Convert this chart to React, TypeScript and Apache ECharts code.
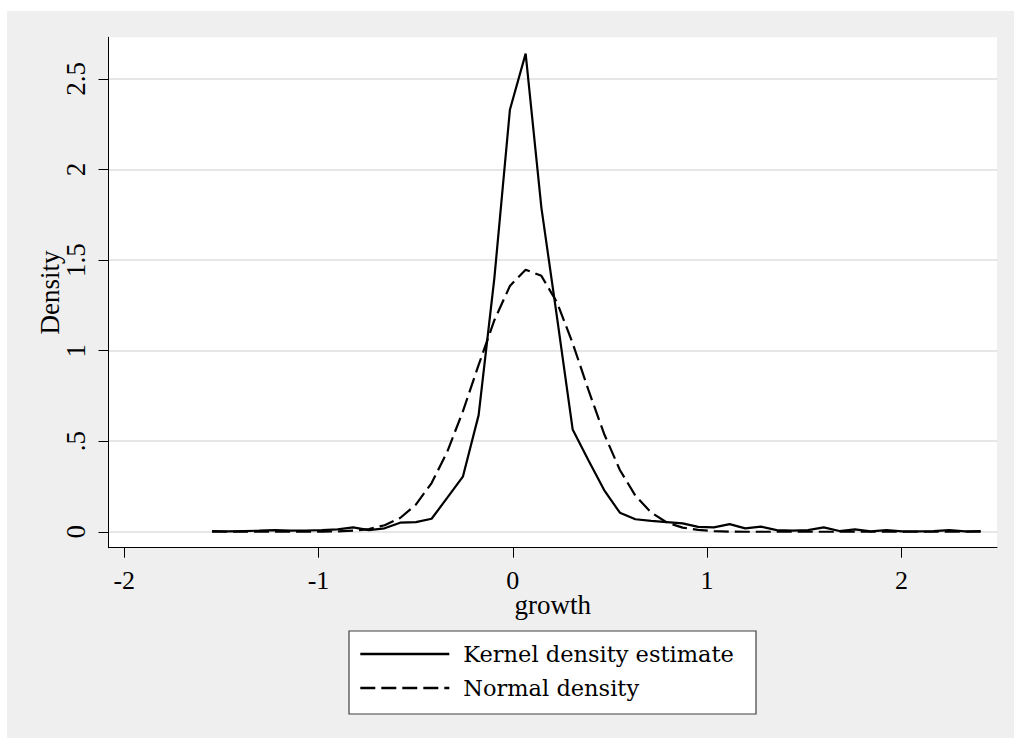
import React, { useEffect, useRef } from "react";
import * as echarts from "echarts";

// evaluation points (growth)
const gridX = [
  -1.548, -1.467, -1.387, -1.306, -1.225, -1.145, -1.064, -0.983, -0.902, -0.822,
  -0.741, -0.66, -0.58, -0.499, -0.418, -0.337, -0.257, -0.176, -0.095, -0.015,
  0.066, 0.147, 0.228, 0.308, 0.389, 0.47, 0.551, 0.631, 0.712, 0.793,
  0.874, 0.954, 1.035, 1.116, 1.196, 1.277, 1.358, 1.439, 1.519, 1.6,
  1.681, 1.761, 1.842, 1.923, 2.004, 2.084, 2.165, 2.246, 2.327, 2.408,
];

const kernelDensity = [
  0.004, 0.002, 0.004, 0.006, 0.009, 0.006, 0.007, 0.009, 0.013, 0.024,
  0.009, 0.019, 0.05, 0.053, 0.072, 0.188, 0.304, 0.644, 1.4, 2.33,
  2.64, 1.79, 1.18, 0.565, 0.395, 0.23, 0.105, 0.069, 0.06, 0.053,
  0.046, 0.027, 0.024, 0.042, 0.019, 0.028, 0.009, 0.006, 0.009, 0.024,
  0.004, 0.013, 0.002, 0.009, 0.002, 0.002, 0.004, 0.009, 0.002, 0.004,
];

const normalDensity = [
  0, 0, 0, 0, 0, 0, 0, 0.001, 0.002, 0.006,
  0.015, 0.036, 0.076, 0.15, 0.269, 0.443, 0.665, 0.921, 1.168, 1.357,
  1.447, 1.413, 1.265, 1.041, 0.783, 0.54, 0.341, 0.199, 0.106, 0.051,
  0.023, 0.01, 0.004, 0.001, 0, 0, 0, 0, 0, 0,
  0, 0, 0, 0, 0, 0, 0, 0, 0, 0,
];

const xTickValues = [-2, -1, 0, 1, 2];
const xTickLabels = ["-2", "-1", "0", "1", "2"];
const yTickValues = [0, 0.5, 1, 1.5, 2, 2.5];
const yTickLabels = ["0", ".5", "1", "1.5", "2", "2.5"];
const seriesNames = ["Kernel density estimate", "Normal density"];
const xAxisTitle = "growth";
const yAxisTitle = "Density";

export default function App() {
  const ref = useRef<HTMLDivElement>(null);
  useEffect(() => {
    if (!ref.current) return;
    const chart = echarts.init(ref.current, null, { renderer: "svg" });
    const axisFont = "'Liberation Serif', 'Times New Roman', serif";
    const legendFont = "'DejaVu Serif', serif";
    const axisLine = { show: true, onZero: false, lineStyle: { color: "#000", width: 1 } };
    chart.setOption({
      animation: false,
      backgroundColor: "#efefef",
      grid: {
        left: 101.5,
        top: 26.3,
        right: 17,
        bottom: 190.3,
        show: true,
        backgroundColor: "#ffffff",
        borderWidth: 0,
        containLabel: false,
        outerBoundsMode: "none",
      },
      xAxis: {
        type: "value",
        min: -2.081,
        max: 2.492,
        name: xAxisTitle,
        nameLocation: "middle",
        nameGap: 48,
        nameMoveOverlap: false,
        nameTextStyle: { fontFamily: axisFont, fontSize: 27, lineHeight: 18, color: "#000" },
        axisLine,
        axisTick: {
          show: true,
          length: 10,
          customValues: xTickValues,
          lineStyle: { color: "#000", width: 1 },
        },
        axisLabel: {
          customValues: xTickValues,
          margin: 23.5,
          fontFamily: axisFont,
          fontSize: 26,
          lineHeight: 18,
          color: "#000",
          formatter: (v: number) => {
            const i = xTickValues.indexOf(v);
            return i >= 0 ? xTickLabels[i] : "";
          },
        },
        splitLine: { show: false },
      },
      yAxis: {
        type: "value",
        min: -0.088,
        max: 2.73,
        name: yAxisTitle,
        nameLocation: "middle",
        nameRotate: 90,
        nameGap: 45,
        nameMoveOverlap: false,
        nameTextStyle: { fontFamily: axisFont, fontSize: 27, color: "#000" },
        axisLine,
        axisTick: {
          show: true,
          length: 10,
          customValues: yTickValues,
          lineStyle: { color: "#000", width: 1 },
        },
        axisLabel: {
          customValues: yTickValues,
          rotate: 90,
          margin: 19,
          fontFamily: axisFont,
          fontSize: 27,
          color: "#000",
          formatter: (v: number) => {
            const i = yTickValues.indexOf(v);
            return i >= 0 ? yTickLabels[i] : "";
          },
        },
        splitLine: { show: true, lineStyle: { color: "#e6e6e6", width: 2 } },
      },
      graphic: [
        {
          type: "rect",
          shape: { x: 342, y: 620, width: 407, height: 83 },
          style: { fill: "#ffffff", stroke: "#404040", lineWidth: 1.2 },
          z: 0,
        },
      ],
      legend: {
        show: true,
        orient: "vertical",
        left: 352,
        top: 631.5,
        padding: 0,
        itemWidth: 89,
        itemHeight: 25,
        itemGap: 11,
        itemStyle: { opacity: 0 },
        lineStyle: { width: 2.6 },
        textStyle: {
          fontFamily: legendFont,
          fontSize: 22.5,
          color: "#000",
          padding: [0, 0, 0, 9],
        },
        data: seriesNames,
        z: 10,
      },
      series: [
        {
          name: seriesNames[0],
          type: "line",
          symbol: "none",
          data: gridX.map((x, i) => [x, kernelDensity[i]]),
          lineStyle: { color: "#000", width: 2.2 },
          itemStyle: { color: "#000" },
        },
        {
          name: seriesNames[1],
          type: "line",
          symbol: "none",
          data: gridX.map((x, i) => [x, normalDensity[i]]),
          lineStyle: { color: "#000", width: 2.2, type: [15, 6] },
          itemStyle: { color: "#000" },
        },
      ],
    });
    return () => chart.dispose();
  }, []);
  return (
    <div
      ref={ref}
      style={{ position: "absolute", left: 7, top: 11, width: 1007, height: 727 }}
    />
  );
}
